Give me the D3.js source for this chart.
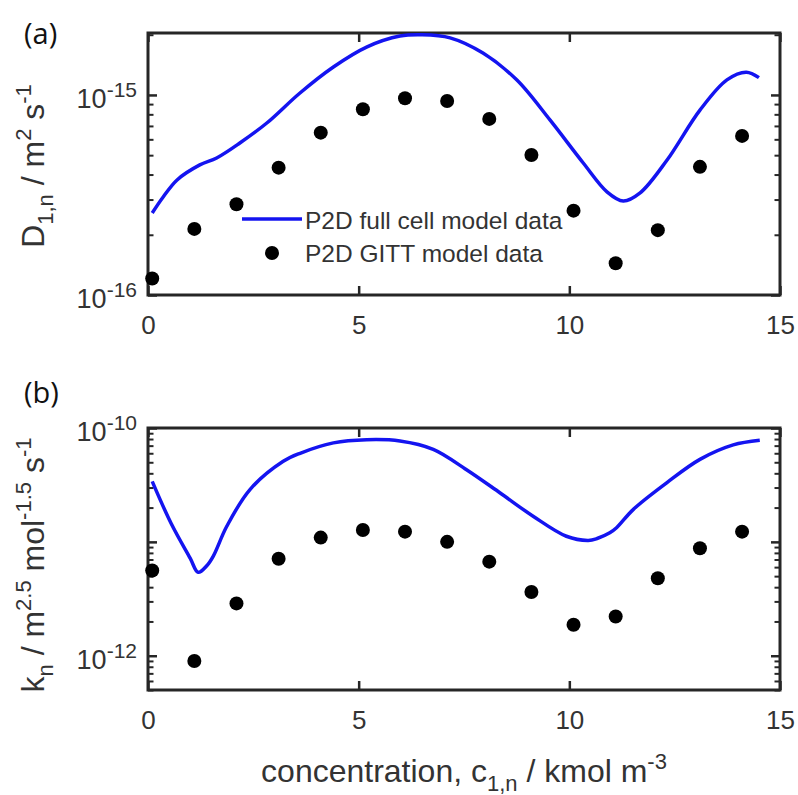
<!DOCTYPE html>
<html>
<head>
<meta charset="utf-8">
<script src="https://cdn.jsdelivr.net/npm/d3@7/dist/d3.min.js"></script>
<style>
  html, body { margin: 0; padding: 0; background: #fff; }
  svg { display: block; font-family: "Liberation Sans", Arial, sans-serif; }
</style>
</head>
<body>
<svg id="chart" width="798" height="795"></svg>
<script>
// ---------- data ----------
const xTicks = [0, 5, 10, 15];

// Panel (a): D_1,n
const gittX = [0.1, 1.1, 2.1, 3.1, 4.1, 5.1, 6.1, 7.1, 8.1, 9.1, 10.1, 11.1, 12.1, 13.1, 14.1];
const gittD = [1.21e-16, 2.14e-16, 2.84e-16, 4.33e-16, 6.48e-16, 8.48e-16, 9.63e-16, 9.33e-16,
               7.59e-16, 5.01e-16, 2.64e-16, 1.44e-16, 2.11e-16, 4.37e-16, 6.24e-16];
const fullX_a = [0.1, 0.36, 0.69, 1.23, 1.63, 2.18, 2.82, 3.6, 4.4, 5.2, 5.98, 6.5, 7.17, 7.95,
                 8.75, 9.54, 10.33, 10.9, 11.28, 11.68, 12.32, 13.1, 13.74, 14.2, 14.5];
const fullD   = [2.57e-16, 3.09e-16, 3.76e-16, 4.47e-16, 4.84e-16, 5.75e-16, 7.24e-16, 1.02e-15,
                 1.38e-15, 1.74e-15, 1.97e-15, 2.0e-15, 1.93e-15, 1.62e-15, 1.19e-15, 7.5e-16,
                 4.57e-16, 3.27e-16, 2.95e-16, 3.24e-16, 4.73e-16, 8.4e-16, 1.19e-15, 1.30e-15, 1.22e-15];
const yTicksA = [1e-16, 1e-15];
const yTickLabelsA = ["-16", "-15"];
const yMinorA = [2e-16, 3e-16, 4e-16, 5e-16, 6e-16, 7e-16, 8e-16, 9e-16, 2e-15];

// Panel (b): k_n
const gittK = [5.6e-12, 9.0e-13, 2.88e-12, 7.1e-12, 1.09e-11, 1.27e-11, 1.23e-11, 1.0e-11,
               6.7e-12, 3.63e-12, 1.87e-12, 2.21e-12, 4.79e-12, 8.8e-12, 1.23e-11];
const fullX_b = [0.1, 0.55, 1.0, 1.19, 1.4, 1.55, 1.87, 2.42, 3.21, 3.61, 4.4, 5.19, 5.98, 6.77,
                 7.56, 8.35, 9.14, 9.93, 10.45, 10.66, 10.96, 11.12, 11.52, 12.31, 13.1, 13.89, 14.52];
const fullK   = [3.4e-11, 1.45e-11, 7.2e-12, 5.4e-12, 6.2e-12, 7.5e-12, 1.37e-11, 2.88e-11, 5.1e-11,
                 6.0e-11, 7.4e-11, 7.9e-11, 7.7e-11, 6.5e-11, 4.3e-11, 2.7e-11, 1.68e-11, 1.12e-11,
                 1.03e-11, 1.07e-11, 1.2e-11, 1.33e-11, 1.93e-11, 3.3e-11, 5.3e-11, 7.1e-11, 7.8e-11];
const yTicksB = [1e-12, 1e-11, 1e-10];
const yTickLabelsB = ["-12", "", "-10"];
const yMinorB = [5e-13, 6e-13, 7e-13, 8e-13, 9e-13, 2e-12, 3e-12, 4e-12, 5e-12, 6e-12, 7e-12, 8e-12, 9e-12,
                 2e-11, 3e-11, 4e-11, 5e-11, 6e-11, 7e-11, 8e-11, 9e-11];

const legendLabels = ["P2D full cell model data", "P2D GITT model data"];

// ---------- drawing ----------
const svg = d3.select("#chart");
const frameColor = "#262626";
const lineColor = "#1414f0";
const L = 148, R = 780;

function panel(opts) {
  const x = d3.scaleLinear().domain([0, 15]).range([L, R]);
  const y = d3.scaleLog().domain(opts.yDomain).range([opts.bottom, opts.top]);
  const g = svg.append("g");

  const xb = g.append("g").attr("transform", `translate(0,${opts.bottom})`)
    .call(d3.axisBottom(x).tickValues(xTicks).tickSizeInner(-9).tickSizeOuter(0).tickFormat(d3.format("d")));
  xb.select(".domain").remove();
  xb.selectAll("line").attr("stroke", frameColor).attr("stroke-width", 2.5);
  xb.selectAll("text").attr("y", 39).attr("dy", 0).attr("font-size", 26)
    .attr("fill", "#333").attr("font-family", "Liberation Sans, Arial, sans-serif");
  const xt = g.append("g").attr("transform", `translate(0,${opts.top})`)
    .call(d3.axisTop(x).tickValues(xTicks).tickSizeInner(-9).tickSizeOuter(0).tickFormat(""));
  xt.select(".domain").remove();
  xt.selectAll("line").attr("stroke", frameColor).attr("stroke-width", 2.5);

  [[L, d3.axisLeft], [R, d3.axisRight]].forEach(([pos, gen]) => {
    const ym = g.append("g").attr("transform", `translate(${pos},0)`)
      .call(gen(y).tickValues(opts.yMinor).tickSizeInner(-5.5).tickSizeOuter(0).tickFormat(""));
    ym.select(".domain").remove();
    ym.selectAll("line").attr("stroke", frameColor).attr("stroke-width", 2);
    const yM = g.append("g").attr("transform", `translate(${pos},0)`)
      .call(gen(y).tickValues(opts.yTicks).tickSizeInner(-9).tickSizeOuter(0).tickFormat(""));
    yM.select(".domain").remove();
    yM.selectAll("line").attr("stroke", frameColor).attr("stroke-width", 2.5);
  });

  opts.yTicks.forEach((v, i) => {
    const lab = opts.yLabels[i];
    if (!lab) return;
    const t = g.append("text")
      .attr("x", 137).attr("y", y(v) + 13)
      .attr("text-anchor", "end").attr("fill", "#333").attr("font-size", 27);
    t.append("tspan").text("10");
    t.append("tspan").attr("font-size", 21).attr("dy", -11).text(lab);
  });

  g.append("rect").attr("x", L).attr("y", opts.top)
    .attr("width", R - L).attr("height", opts.bottom - opts.top)
    .attr("fill", "none").attr("stroke", frameColor).attr("stroke-width", 3);

  const line = d3.line().x(d => x(d[0])).y(d => y(d[1])).curve(d3.curveCatmullRom.alpha(0.5));
  g.append("path")
    .datum(opts.lineX.map((xx, i) => [xx, opts.lineY[i]]))
    .attr("d", line).attr("fill", "none").attr("stroke", lineColor)
    .attr("stroke-width", 3.5).attr("stroke-linejoin", "round");

  g.selectAll("circle.pt").data(gittX.map((xx, i) => [xx, opts.pts[i]])).enter()
    .append("circle").attr("class", "pt")
    .attr("cx", d => x(d[0])).attr("cy", d => y(d[1])).attr("r", 7).attr("fill", "#000");

  svg.append("text").attr("x", 24).attr("y", opts.labelY)
    .attr("font-family", "'Open Sans', 'Noto Sans', sans-serif").attr("font-size", 29)
    .attr("fill", "#111").text(opts.label);

  return { x, y, g };
}

panel({
  top: 33, bottom: 295, yDomain: [1e-16, 2.04e-15],
  yTicks: yTicksA, yLabels: yTickLabelsA, yMinor: yMinorA,
  lineX: fullX_a, lineY: fullD, pts: gittD, label: "(a)", labelY: 44
});
panel({
  top: 428, bottom: 690, yDomain: [5e-13, 1e-10],
  yTicks: yTicksB, yLabels: yTickLabelsB, yMinor: yMinorB,
  lineX: fullX_b, lineY: fullK, pts: gittK, label: "(b)", labelY: 403
});

// legend in panel (a)
const lg = svg.append("g");
lg.append("line").attr("x1", 242).attr("x2", 302).attr("y1", 219).attr("y2", 219)
  .attr("stroke", lineColor).attr("stroke-width", 3.5);
lg.append("circle").attr("cx", 272).attr("cy", 253).attr("r", 7).attr("fill", "#000");
lg.selectAll("text").data(legendLabels).enter().append("text")
  .attr("x", 305).attr("y", (d, i) => 229 + i * 33)
  .attr("font-size", 24.5).attr("fill", "#333").text(d => d);

function yTitle(cx, cy, parts) {
  const t = svg.append("text")
    .attr("transform", `translate(${cx},${cy}) rotate(-90)`)
    .attr("text-anchor", "middle").attr("font-size", 32).attr("fill", "#333");
  parts.forEach(p => {
    const s = t.append("tspan").text(p.t);
    if (p.sub) s.attr("font-size", 22).attr("dy", 9);
    if (p.sup) s.attr("font-size", 22).attr("dy", -13);
    if (p.dy) s.attr("dy", p.dy);
  });
}
yTitle(44, 166, [
  { t: "D" }, { t: "1,n", sub: true }, { t: " / m", dy: -9 }, { t: "2", sup: true },
  { t: " s", dy: 13 }, { t: "-1", sup: true }
]);
yTitle(44, 565, [
  { t: "k" }, { t: "n", sub: true }, { t: " / m", dy: -9 }, { t: "2.5", sup: true },
  { t: " mol", dy: 13 }, { t: "-1.5", sup: true }, { t: " s", dy: 13 }, { t: "-1", sup: true }
]);

const xt = svg.append("text").attr("x", 464).attr("y", 782)
  .attr("text-anchor", "middle").attr("font-size", 32).attr("fill", "#333");
xt.append("tspan").text("concentration, c");
xt.append("tspan").attr("font-size", 22).attr("dy", 9).text("1,n");
xt.append("tspan").attr("dy", -9).text(" / kmol m");
xt.append("tspan").attr("font-size", 22).attr("dy", -13).text("-3");
</script>
</body>
</html>
